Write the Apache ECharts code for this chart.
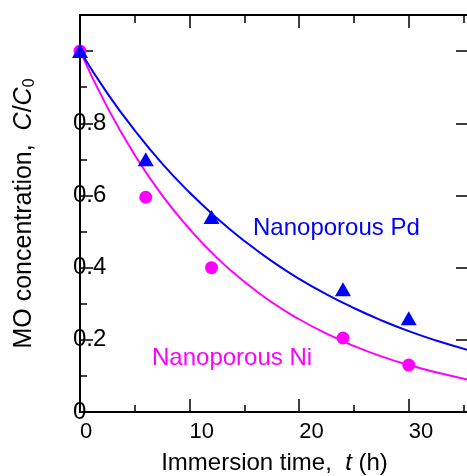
<!DOCTYPE html>
<html>
<head>
<meta charset="utf-8">
<script src="https://cdn.jsdelivr.net/npm/echarts@6/dist/echarts.min.js"></script>
<style>
html,body{margin:0;padding:0;background:#fff;}
#chart{width:467px;height:476px;}
</style>
</head>
<body>
<div id="chart"></div>
<script>
// Measured data points (t in hours, C/C0)
var timePd = [0, 6, 12, 24, 30];
var concPd = [1.0, 0.70, 0.54, 0.34, 0.26];
var timeNi = [0, 6, 12, 24, 30];
var concNi = [1.0, 0.595, 0.40, 0.205, 0.13];
// Fitted curves
var fitTime = [0, 2.5, 5, 7.5, 10, 12.5, 15, 17.5, 20, 22.5, 25, 27.5, 30, 32.5, 35.5];
var fitPd = [1.0, 0.883, 0.780, 0.688, 0.608, 0.537, 0.474, 0.418, 0.369, 0.326, 0.288, 0.254, 0.224, 0.198, 0.171];
var fitNi = [1.0, 0.844, 0.712, 0.600, 0.507, 0.427, 0.361, 0.304, 0.257, 0.217, 0.183, 0.154, 0.130, 0.110, 0.089];
// Tick labels
var xTickLabels = [0, 10, 20, 30];
var yTickLabels = ['0', '0.2', '0.4', '0.6', '0.8'];

function pairs(xs, ys) { return xs.map(function (x, i) { return [x, ys[i]]; }); }

var FONT = '"Liberation Sans", Arial, sans-serif';
var X_MIN = 0, X_MAX = 35.5, Y_MIN = 0, Y_MAX = 1.1;
var lineStyle = { color: '#000', width: 2 };

function xAxisDef(pos, interval, tickLen, showLine, showLabel) {
  return {
    type: 'value', position: pos, min: X_MIN, max: X_MAX, interval: interval,
    axisLine: { show: showLine, onZero: false, lineStyle: lineStyle },
    axisTick: { show: true, inside: true, length: tickLen, lineStyle: { color: '#000', width: 1.5 } },
    axisLabel: showLabel ? {
      show: true, margin: 9, align: 'left', color: '#000', fontFamily: FONT, fontSize: 22,
      formatter: function (v) { return xTickLabels.indexOf(Math.round(v * 100) / 100) >= 0 ? String(v) : ''; }
    } : { show: false },
    splitLine: { show: false }
  };
}
function yAxisDef(pos, interval, tickLen, showLine, showLabel) {
  return {
    type: 'value', position: pos, min: Y_MIN, max: Y_MAX, interval: interval,
    axisLine: { show: showLine, onZero: false, lineStyle: lineStyle },
    axisTick: { show: true, inside: true, length: tickLen, lineStyle: { color: '#000', width: 1.5 } },
    axisLabel: showLabel ? {
      show: true, margin: 7, align: 'left', color: '#000', fontFamily: FONT, fontSize: 24,
      formatter: function (v) {
        var s = (Math.round(v * 10) / 10);
        var str = s === 0 ? '0' : s.toFixed(1);
        return yTickLabels.indexOf(str) >= 0 ? str : '';
      }
    } : { show: false },
    splitLine: { show: false }
  };
}

var xAxes = [
  xAxisDef('bottom', 5, 7, true, true),
  xAxisDef('bottom', 10, 13, false, false),
  xAxisDef('top', 5, 8, true, false),
  xAxisDef('top', 10, 13, false, false)
];
xAxes[0].name = '{n|Immersion time,  }{i|t}{n| (h)}';
xAxes[0].nameLocation = 'middle';
xAxes[0].nameGap = 39;
xAxes[0].nameTextStyle = {
  rich: {
    n: { fontFamily: FONT, fontSize: 24, color: '#000' },
    i: { fontFamily: FONT, fontSize: 24, fontStyle: 'italic', color: '#000' }
  }
};

var yAxes = [
  yAxisDef('left', 0.1, 7, true, true),
  yAxisDef('left', 0.2, 13, false, false),
  yAxisDef('right', 0.2, 13, true, false)
];
yAxes[0].name = '{n|MO concentration,  }{i|C}{n|/}{i|C}{s|0}';
yAxes[0].nameLocation = 'middle';
yAxes[0].nameRotate = 90;
yAxes[0].nameGap = 42;
yAxes[0].nameTextStyle = {
  rich: {
    n: { fontFamily: FONT, fontSize: 25, color: '#000' },
    i: { fontFamily: FONT, fontSize: 25, fontStyle: 'italic', color: '#000' },
    s: { fontFamily: FONT, fontSize: 16, color: '#000', verticalAlign: 'bottom', padding: [12, 0, 0, 0] }
  }
};

var option = {
  animation: false,
  backgroundColor: '#fff',
  grid: { left: 80, top: 15, width: 389, height: 397, containLabel: false, outerBoundsMode: 'none' },
  xAxis: xAxes,
  yAxis: yAxes,
  series: [
    { type: 'line', smooth: true, symbol: 'none', data: pairs(fitTime, fitNi), lineStyle: { color: '#ff00ff', width: 2 }, clip: true, z: 2 },
    { type: 'line', smooth: true, symbol: 'none', data: pairs(fitTime, fitPd), lineStyle: { color: '#0000ff', width: 2 }, clip: true, z: 3 },
    { type: 'scatter', symbol: 'circle', symbolSize: 13, data: pairs(timeNi, concNi), itemStyle: { color: '#ff00ff', opacity: 1 }, clip: false, z: 4 },
    { type: 'scatter', symbol: 'triangle', symbolSize: [16, 14], data: pairs(timePd, concPd), itemStyle: { color: '#0000ff', opacity: 1 }, clip: false, z: 5 }
  ],
  graphic: [
    { type: 'text', left: 253, top: 216, style: { text: 'Nanoporous Pd', fill: '#0000ff', font: '24px ' + FONT } },
    { type: 'text', left: 152, top: 346, style: { text: 'Nanoporous Ni', fill: '#ff00ff', font: '24px ' + FONT } }
  ]
};

var chart = echarts.init(document.getElementById('chart'), null, { renderer: 'canvas' });
chart.setOption(option);
</script>
</body>
</html>
